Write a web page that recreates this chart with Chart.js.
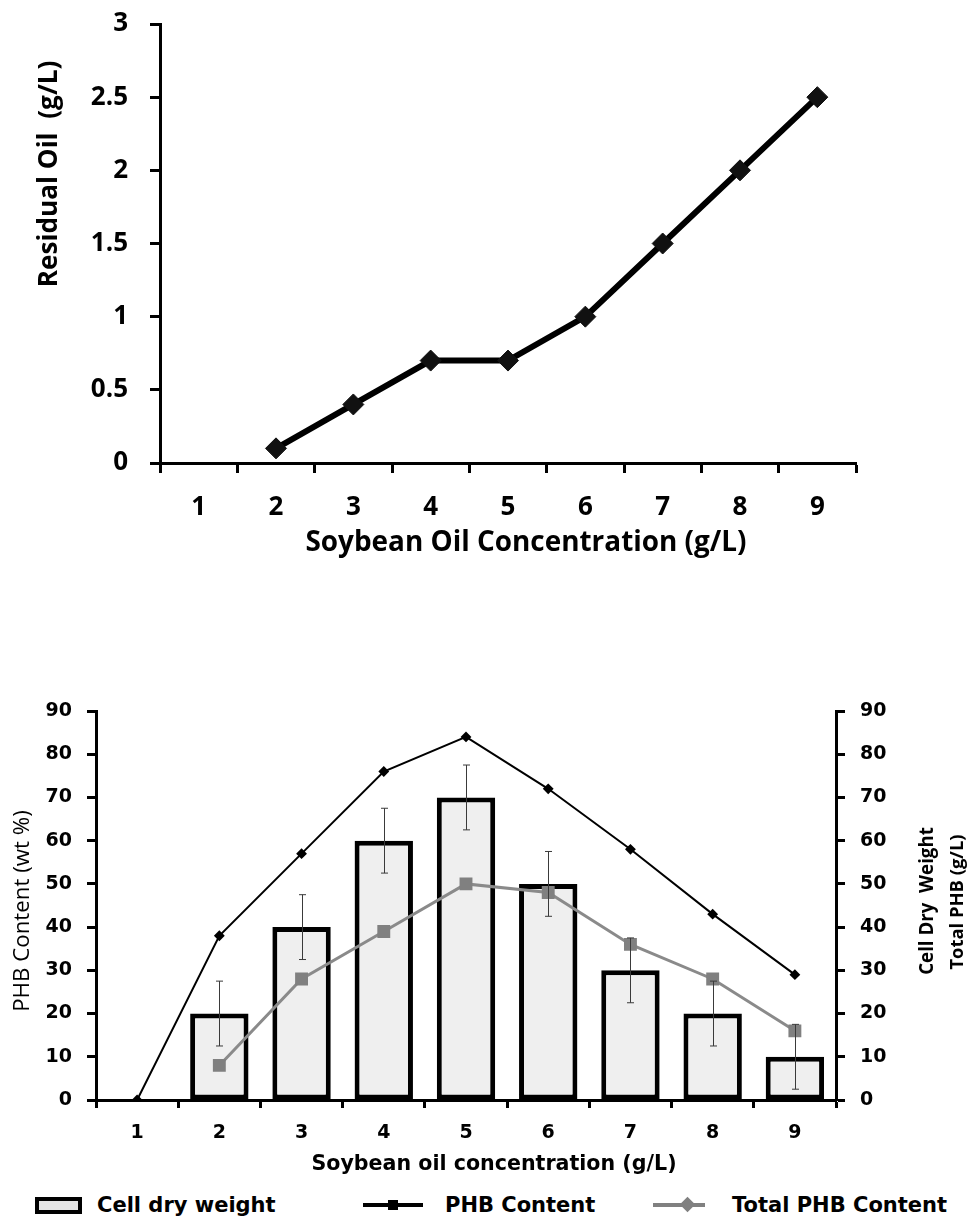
<!DOCTYPE html>
<html>
<head>
<meta charset="utf-8">
<script src="https://cdn.jsdelivr.net/npm/chart.js"></script>
<style>
  body { margin: 0; background: #fff; }
  #wrap { position: relative; width: 968px; height: 1219px; overflow: hidden; }
  canvas { position: absolute; left: 0; }
  #oil-chart { top: 0; }
  #phb-chart { top: 640px; }
  .lg { position: absolute; }
  .lg-text { font: bold 21px "DejaVu Sans", sans-serif; color: #000; top: 1193px; line-height: 24px; }
</style>
</head>
<body>
<div id="wrap">
  <canvas id="oil-chart" width="968" height="562"></canvas>
  <canvas id="phb-chart" width="968" height="540"></canvas>

  <div class="lg" style="left:35px;top:1197px;width:47px;height:17px;box-sizing:border-box;border:4px solid #000;background:#e4e4e4"></div>
  <div class="lg lg-text" style="left:97px">Cell dry weight</div>

  <div class="lg" style="left:363px;top:1203px;width:60px;height:4px;background:#000"></div>
  <div class="lg" style="left:388px;top:1200px;width:10px;height:10px;background:#000"></div>
  <div class="lg lg-text" style="left:445px">PHB Content</div>

  <div class="lg" style="left:653px;top:1203px;width:52px;height:4px;background:#808080"></div>
  <div class="lg" style="left:682px;top:1199px;width:11px;height:11px;background:#808080;transform:rotate(45deg)"></div>
  <div class="lg lg-text" style="left:732px">Total PHB Content</div>
</div>

<script>
// x categories: soybean oil concentration (g/L)
const concLabels = ['1', '2', '3', '4', '5', '6', '7', '8', '9'];

// top chart
const residualOil = [null, 0.1, 0.4, 0.7, 0.7, 1.0, 1.5, 2.0, 2.5];
const residualTicks = ['0', '0.5', '1', '1.5', '2', '2.5', '3'];

// bottom chart
const cellDryWeight = [null, 20, 40, 60, 70, 50, 30, 20, 10];
const cellDryErr = [null, 7.5, 7.5, 7.5, 7.5, 7.5, 7.5, 7.5, 7.5];
const phbContent = [0, 38, 57, 76, 84, 72, 58, 43, 29];
const totalPhb = [null, 8, 28, 39, 50, 48, 36, 28, 16];

// axis titles sit off-centre in the original, so they are placed by hand;
// font size is scaled so the text spans roughly `len` px like the original
const freeTitles = {
  id: 'freeTitles',
  afterDraw(chart, args, opts) {
    const ctx = chart.ctx;
    (opts.items || []).forEach(t => {
      ctx.save();
      ctx.font = `${t.weight} 20px ${t.family}`;
      const size = 20 * t.len / ctx.measureText(t.text).width;
      ctx.font = `${t.weight} ${size.toFixed(1)}px ${t.family}`;
      ctx.translate(t.x, t.y);
      if (t.rot) ctx.rotate(t.rot);
      ctx.fillStyle = '#000';
      ctx.textAlign = 'center';
      ctx.textBaseline = 'middle';
      ctx.fillText(t.text, 0, 0);
      ctx.restore();
    });
  }
};

const errorBars = {
  id: 'errorBars',
  afterDatasetsDraw(chart) {
    const idx = chart.data.datasets.findIndex(d => d.type === 'bar');
    const meta = chart.getDatasetMeta(idx);
    const ds = chart.data.datasets[idx];
    const sc = chart.scales[ds.yAxisID];
    const ctx = chart.ctx;
    ctx.save();
    ctx.strokeStyle = '#3a3a3a';
    ctx.lineWidth = 1;
    meta.data.forEach((el, i) => {
      const v = ds.data[i], e = cellDryErr[i];
      if (v == null || e == null) return;
      const x = Math.round(el.x) + 0.5;
      const yt = sc.getPixelForValue(v + e), yb = sc.getPixelForValue(v - e);
      ctx.beginPath();
      ctx.moveTo(x, yt); ctx.lineTo(x, yb);
      ctx.moveTo(x - 3.5, yt); ctx.lineTo(x + 3.5, yt);
      ctx.moveTo(x - 3.5, yb); ctx.lineTo(x + 3.5, yb);
      ctx.stroke();
    });
    ctx.restore();
  }
};

const UP = -Math.PI / 2;
const OPEN = '"Open Sans"', DEJAVU = '"DejaVu Sans"';
const calibriLike = { family: 'Open Sans', weight: 'bold', size: 26 };
const verdanaLike = { family: 'DejaVu Sans', weight: 'bold', size: 19 };

new Chart(document.getElementById('oil-chart'), {
  type: 'line',
  data: {
    labels: concLabels,
    datasets: [{
      label: 'Residual Oil',
      data: residualOil,
      borderColor: '#000',
      borderWidth: 6,
      pointStyle: 'rectRot',
      pointRadius: 10.5,
      pointBackgroundColor: '#111',
      pointBorderColor: '#111',
      pointBorderWidth: 1,
      tension: 0,
    }],
  },
  options: {
    responsive: false,
    animation: false,
    layout: { autoPadding: false, padding: { left: 0, top: 24, right: 112, bottom: 0 } },
    plugins: {
      legend: { display: false },
      tooltip: { enabled: false },
      freeTitles: { items: [
        { text: 'Residual Oil  (g/L)', x: 50, y: 174, rot: UP, len: 227, weight: 'bold', family: OPEN },
        { text: 'Soybean Oil Concentration (g/L)', x: 526, y: 543, len: 441, weight: 'bold', family: OPEN },
      ] },
    },
    scales: {
      x: {
        offset: true,
        grid: { offset: true, drawOnChartArea: false, tickLength: 10, tickWidth: 3, tickColor: '#000' },
        border: { color: '#000', width: 3 },
        ticks: { color: '#000', font: calibriLike, padding: 19 },
        afterFit: s => { s.height = 99; },
      },
      y: {
        min: 0, max: 3,
        grid: { drawOnChartArea: false, tickLength: 10, tickWidth: 3, tickColor: '#000' },
        border: { color: '#000', width: 3 },
        ticks: { stepSize: 0.5, color: '#000', font: calibriLike, padding: 22, callback: (v, i) => residualTicks[i] },
        afterFit: s => { s.width = 160; s.paddingTop = 0; s.paddingBottom = 0; },
      },
    },
  },
  plugins: [freeTitles],
});

const axisGrid = { drawOnChartArea: false, tickLength: 9, tickWidth: 3, tickColor: '#000' };

new Chart(document.getElementById('phb-chart'), {
  type: 'bar',
  data: {
    labels: concLabels,
    datasets: [
      {
        type: 'line', label: 'PHB Content', data: phbContent, yAxisID: 'y',
        borderColor: '#000', borderWidth: 2, pointStyle: 'rectRot', pointRadius: 4,
        pointBackgroundColor: '#000', pointBorderColor: '#000', tension: 0, order: 1,
      },
      {
        type: 'line', label: 'Total PHB Content', data: totalPhb, yAxisID: 'y2',
        borderColor: '#8a8a8a', borderWidth: 3, pointStyle: 'rect', pointRadius: 7,
        pointBackgroundColor: '#808080', pointBorderColor: '#808080', tension: 0, order: 2,
      },
      {
        type: 'bar', label: 'Cell dry weight', data: cellDryWeight, yAxisID: 'y2',
        backgroundColor: '#efefef', borderColor: '#000', borderWidth: 5, borderSkipped: false,
        barPercentage: 0.71, categoryPercentage: 1, order: 3,
      },
    ],
  },
  options: {
    responsive: false,
    animation: false,
    layout: { autoPadding: false, padding: { left: 0, top: 71, right: 0, bottom: 0 } },
    plugins: {
      legend: { display: false },
      tooltip: { enabled: false },
      freeTitles: { items: [
        { text: 'PHB Content (wt %)', x: 23, y: 271, rot: UP, len: 202, weight: 'normal', family: OPEN },
        { text: 'Cell Dry  Weight', x: 928, y: 261, rot: UP, len: 148, weight: 'bold', family: OPEN },
        { text: 'Total PHB (g/L)', x: 958, y: 262, rot: UP, len: 135, weight: 'bold', family: OPEN },
        { text: 'Soybean oil concentration (g/L)', x: 494, y: 525, len: 366, weight: 'bold', family: DEJAVU },
      ] },
    },
    scales: {
      x: {
        offset: true,
        grid: { offset: true, drawOnChartArea: false, tickLength: 8, tickWidth: 3, tickColor: '#000' },
        border: { color: '#000', width: 3 },
        ticks: { color: '#000', font: verdanaLike, padding: 14 },
        afterFit: s => { s.height = 80; },
      },
      y: {
        position: 'left', min: 0, max: 90,
        grid: axisGrid,
        border: { color: '#000', width: 3 },
        ticks: { stepSize: 10, color: '#000', font: verdanaLike, padding: 15 },
        afterFit: s => { s.width = 96; },
      },
      y2: {
        position: 'right', min: 0, max: 90,
        grid: axisGrid,
        border: { color: '#000', width: 3 },
        ticks: { stepSize: 10, color: '#000', font: verdanaLike, padding: 15 },
        afterFit: s => { s.width = 132; },
      },
    },
  },
  plugins: [freeTitles, errorBars],
});
</script>
</body>
</html>
